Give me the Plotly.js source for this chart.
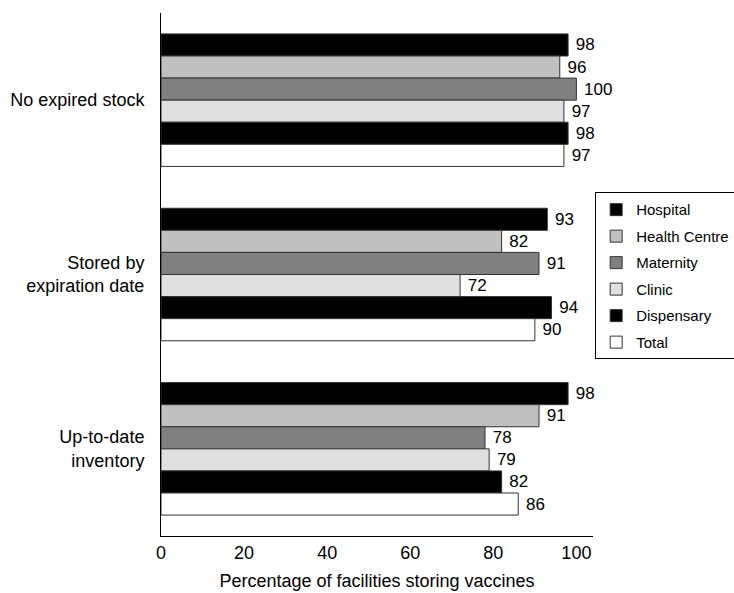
<!DOCTYPE html>
<html><head><meta charset="utf-8">
<script src="https://cdn.plot.ly/plotly-3.0.1.min.js"></script>
<style>body{margin:0;background:#fff}#chart{width:734px;height:593px}</style>
</head><body><div id="chart"></div>
<script>
const categories = ["No expired stock", "Stored by<br>expiration date", "Up-to-date<br>inventory"];
const seriesNames = ["Hospital", "Health Centre", "Maternity", "Clinic", "Dispensary", "Total"];
const hospital = [98, 93, 98];
const healthCentre = [96, 82, 91];
const maternity = [100, 91, 78];
const clinic = [97, 72, 79];
const dispensary = [98, 94, 82];
const total = [97, 90, 86];
const xTicks = [0, 20, 40, 60, 80, 100];

const values = [hospital, healthCentre, maternity, clinic, dispensary, total];
const colors = ["#000000", "#c0c0c0", "#808080", "#e0e0e0", "#000000", "#ffffff"];
const font = "Liberation Sans, Arial, sans-serif";

const data = values.map((v, i) => ({
  type: "bar", orientation: "h", name: seriesNames[i], legendgroup: "g" + i,
  x: v, y: categories,
  marker: {color: colors[i], line: {color: "#333333", width: 1}},
  text: v.map(n => " " + n), textposition: "outside", cliponaxis: false,
  textfont: {family: font, size: 17, color: "#000"}
}));

const layout = {
  width: 734, height: 593,
  margin: {l: 161, r: 141, t: 13, b: 57, autoexpand: false},
  paper_bgcolor: "#fff", plot_bgcolor: "#fff",
  font: {family: font, size: 18, color: "#000"},
  barmode: "group", bargap: 0.24, bargroupgap: 0,
  showlegend: true,
  legend: {x: 1.005, y: 0.657, xanchor: "left", yanchor: "top",
    bordercolor: "#000", borderwidth: 1, traceorder: "grouped", tracegroupgap: 4,
    font: {family: font, size: 15, color: "#000"}},
  xaxis: {range: [0, 104], tickvals: xTicks, ticktext: xTicks.map(String),
    showgrid: false, zeroline: false, showline: true, linecolor: "#000", linewidth: 1,
    ticks: "", ticklen: 0,
    title: {text: "Percentage of facilities storing vaccines", font: {size: 18}, standoff: 12}},
  yaxis: {autorange: "reversed", showgrid: false, zeroline: false, showline: true,
    linecolor: "#000", linewidth: 1, ticks: "", ticklabelstandoff: 12}
};
Plotly.newPlot("chart", data, layout, {displayModeBar: false, staticPlot: true});
</script></body></html>
